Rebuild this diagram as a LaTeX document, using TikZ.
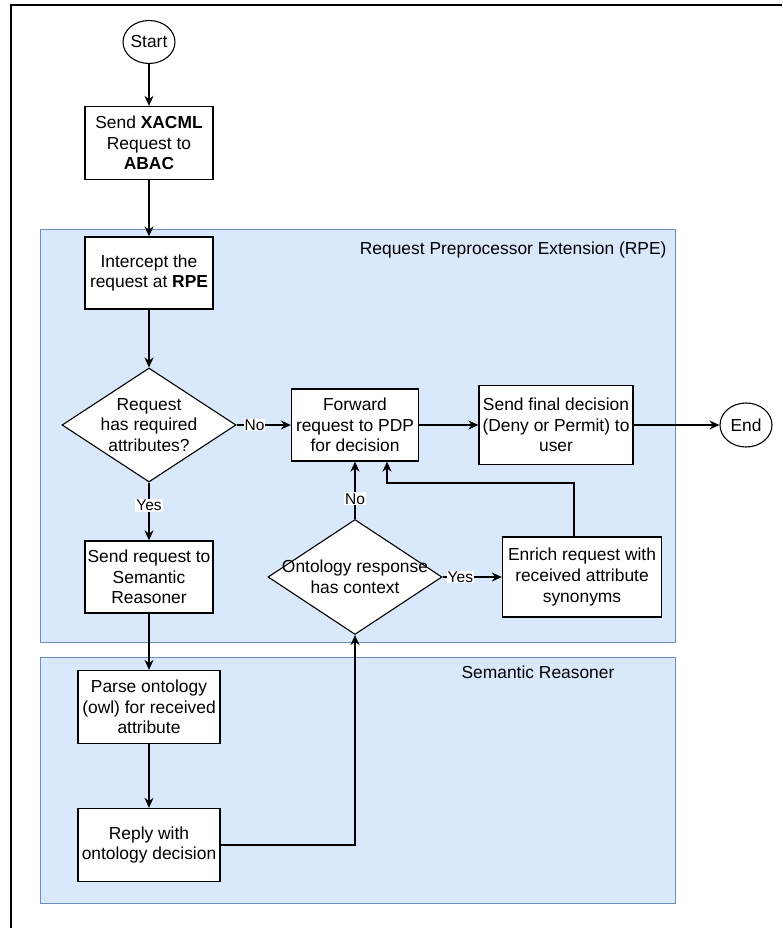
\documentclass[tikz,border=0pt]{standalone}
\usepackage{fontspec}
\setmainfont{Liberation Sans}
\usetikzlibrary{shapes.geometric,arrows.meta,calc}
\definecolor{grpfill}{HTML}{DAE8FC}
\definecolor{grpdraw}{HTML}{6C8EBF}
\tikzset{
  box/.style={draw=black, fill=white, line width=1.3pt, rectangle, align=center, inner sep=1pt,
    font=\fontsize{17.4}{20.6}\selectfont},
  term/.style={draw=black, fill=white, line width=1.1pt, ellipse, inner sep=0pt,
    font=\fontsize{17.4}{20.6}\selectfont},
  dec/.style={draw=black, fill=white, line width=1.1pt, diamond, inner sep=0pt},
  dectext/.style={align=center, font=\fontsize{17.4}{20.6}\selectfont},
  grp/.style={draw=grpdraw, fill=grpfill, line width=1pt},
  grplabel/.style={font=\fontsize{17.4}{20.6}\selectfont},
  arr/.style={draw=black, line width=1.3pt, -{Stealth[length=10pt,width=9pt]}},
  elab/.style={fill=white, inner sep=1pt, font=\fontsize{15.5}{18}\selectfont}
}
\begin{document}
\begin{tikzpicture}[x=1pt,y=-1pt]
\useasboundingbox (0,0) rectangle (782,928);
% outer frame (partly visible)
\draw[line width=1.3pt] (782,5) -- (11,5) -- (11,928);
% containers
\draw[grp] (40,229) rectangle (675,642);
\node[grplabel, anchor=east] (rpelabel) at (670,250) {Request Preprocessor Extension (RPE)};
\draw[grp] (40,657) rectangle (675,903);
\node[grplabel] (srlabel) at (538,672) {Semantic Reasoner};
% nodes
\node[term, minimum width=52pt, minimum height=43pt] (start) at (149,42) {Start};
\node[box, minimum width=128pt, minimum height=73pt] (xacml) at (149,143) {Send \textbf{XACML}\\Request to\\\textbf{ABAC}};
\node[box, minimum width=128pt, minimum height=72pt] (intercept) at (149,273) {Intercept the\\request at \textbf{RPE}};
\node[dec, minimum width=174pt, minimum height=114pt] (d1) at (149,425) {};
\node[dectext] (d1t) at (d1.center) {Request\\has required\\attributes?};
\node[box, minimum width=127pt, minimum height=72pt] (forward) at (355,425) {Forward\\request to PDP\\for decision};
\node[box, minimum width=154pt, minimum height=79pt] (final) at (556,425) {Send final decision\\(Deny or Permit) to\\user};
\node[term, minimum width=52pt, minimum height=44pt] (end) at (746,425) {End};
\node[box, minimum width=128pt, minimum height=72pt] (sendsr) at (149,577) {Send request to\\Semantic\\Reasoner};
\node[dec, minimum width=174pt, minimum height=115pt] (d2) at (355,577) {};
\node[dectext] (d2t) at (d2.center) {Ontology response\\has context};
\node[box, minimum width=159pt, minimum height=80pt] (enrich) at (582,577) {Enrich request with\\received attribute\\synonyms};
\node[box, minimum width=142pt, minimum height=73pt] (parse) at (149,707) {Parse ontology\\(owl) for received\\attribute};
\node[box, minimum width=142pt, minimum height=73pt] (reply) at (149,845) {Reply with\\ontology decision};
\coordinate (k) at (387,483);
% connectors
\draw[arr] (start) -- (xacml);
\draw[arr] (xacml) -- (intercept);
\draw[arr] (intercept) -- (d1);
\draw[arr] (d1.east) -- node[elab, pos=0.33] {No} (forward.west);
\draw[arr] (forward) -- (final);
\draw[arr] (final) -- (end);
\draw[arr] (d1.south) -- node[elab, pos=0.4] {Yes} (sendsr.north);
\draw[arr] (sendsr) -- (parse);
\draw[arr] (parse) -- (reply);
\draw[arr] (reply.east) -| (d2.south);
\draw[arr] (d2.north) -- node[elab, pos=0.35] {No} (forward.south);
\draw[arr] (d2.east) -- node[elab, pos=0.3] {Yes} (enrich.west);
\draw[arr] ([xshift=-8pt]enrich.north) |- (k) -- (k |- forward.south);
\end{tikzpicture}
\end{document}
